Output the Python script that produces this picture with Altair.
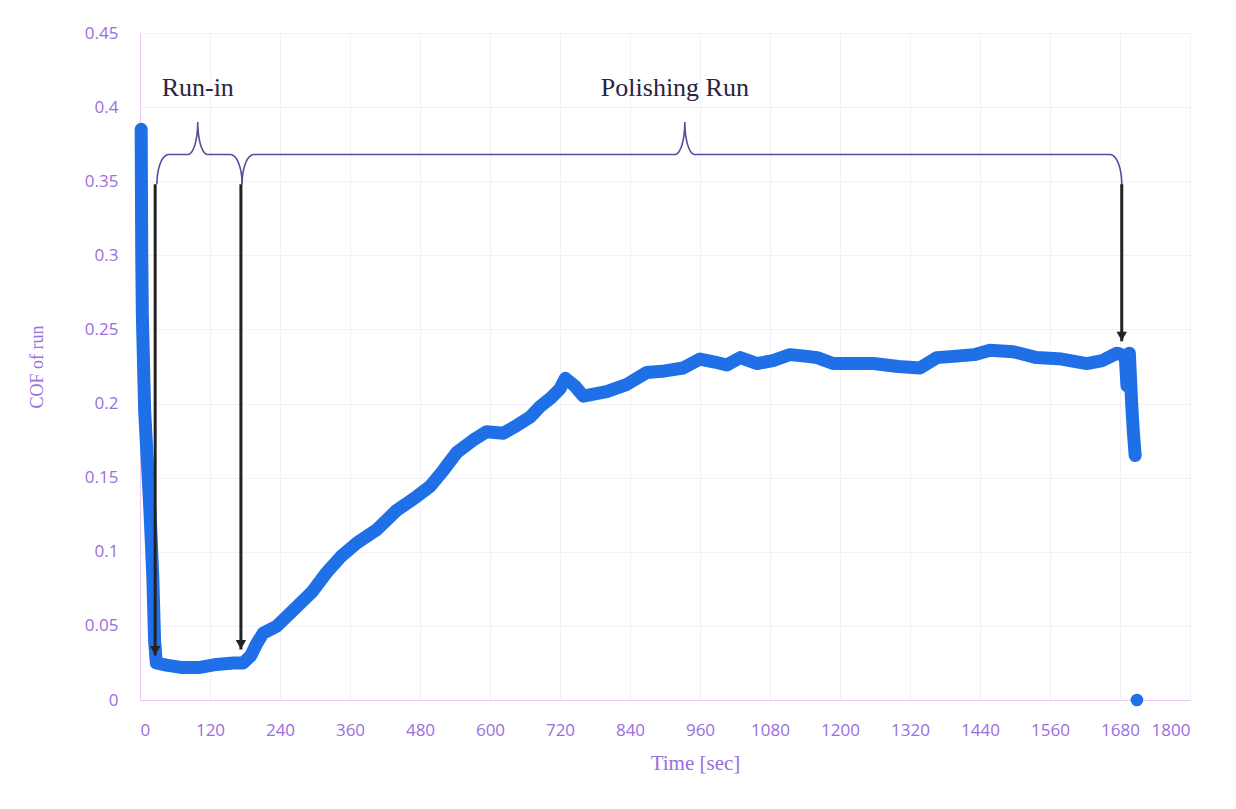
import math
import altair as alt
import pandas as pd

# ---- data ----
time_s = [2, 3, 4, 8, 17, 22, 25, 28, 45, 70, 103, 131, 160, 177, 190, 200, 211, 235, 269,
          295, 320, 345, 372, 406, 440, 470, 497, 520, 543, 570, 594, 623, 645, 669, 686,
          705, 720, 729, 745, 760, 800, 835, 869, 900, 931, 960, 985, 1006, 1029, 1058,
          1085, 1114, 1140, 1161, 1188, 1220, 1257, 1300, 1337, 1366, 1400, 1430, 1457,
          1497, 1537, 1580, 1623, 1650, 1675, 1689, 1692, 1696, 1700, 1703, 1706]
cof = [0.385, 0.3, 0.26, 0.195, 0.128, 0.083, 0.04, 0.025, 0.0235, 0.022, 0.022, 0.024, 0.025,
       0.025, 0.03, 0.038, 0.045, 0.05, 0.063, 0.073, 0.086, 0.097, 0.106, 0.115, 0.128,
       0.136, 0.144, 0.155, 0.167, 0.175, 0.181, 0.18, 0.185, 0.191, 0.198, 0.204, 0.21,
       0.217, 0.212, 0.205, 0.208, 0.213, 0.221, 0.222, 0.224, 0.23, 0.228, 0.226, 0.231,
       0.227, 0.229, 0.233, 0.232, 0.231, 0.227, 0.227, 0.227, 0.225, 0.224, 0.231, 0.232,
       0.233, 0.236, 0.235, 0.231, 0.23, 0.227, 0.229, 0.234, 0.232, 0.212, 0.234, 0.2,
       0.18, 0.165]
outlier_time = [1709]
outlier_cof = [0.0]

x_ticks = [0, 120, 240, 360, 480, 600, 720, 840, 960, 1080, 1200, 1320, 1440, 1560, 1680, 1800]
y_ticks = [0, 0.05, 0.1, 0.15, 0.2, 0.25, 0.3, 0.35, 0.4, 0.45]

# annotations
label_text = ["Run-in", "Polishing Run"]
label_time = [99, 917]
label_cof = [0.413, 0.413]

brace_name = ["run-in", "polishing"]
brace_start = [29, 175]
brace_end = [175, 1683]
brace_mid = [99, 934]
brace_line = 0.368
brace_peak = 0.390
brace_foot = 0.348
brace_end_w = 20
brace_mid_w = 17

arrow_time = [26, 173, 1683]
arrow_top = [0.348, 0.348, 0.348]
arrow_tip = [0.030, 0.034, 0.242]

BLUE = "#1f6fe6"
PURPLE = "#9a6ee0"
SERIF = "Liberation Serif"
SANS = "Open Sans"

main = pd.DataFrame({"t": time_s, "c": cof})
outl = pd.DataFrame({"t": outlier_time, "c": outlier_cof})
labels = pd.DataFrame({"t": label_time, "c": label_cof, "txt": label_text})


def brace_rows(name, x0, x1, xm):
    pts = []
    n = 12
    for i in range(n + 1):
        th = math.pi / 2 * i / n
        pts.append((x0 + brace_end_w - brace_end_w * math.cos(th),
                    brace_foot + (brace_line - brace_foot) * math.sin(th)))
    for i in range(n + 1):
        th = math.pi / 2 * i / n
        pts.append((xm - brace_mid_w + brace_mid_w * math.sin(th),
                    brace_peak - (brace_peak - brace_line) * math.cos(th)))
    for i in range(n, -1, -1):
        th = math.pi / 2 * i / n
        pts.append((xm + brace_mid_w - brace_mid_w * math.sin(th),
                    brace_peak - (brace_peak - brace_line) * math.cos(th)))
    for i in range(n, -1, -1):
        th = math.pi / 2 * i / n
        pts.append((x1 - brace_end_w + brace_end_w * math.cos(th),
                    brace_foot + (brace_line - brace_foot) * math.sin(th)))
    return [{"name": name, "k": k, "t": p[0], "c": p[1]} for k, p in enumerate(pts)]


rows = []
for nm, a, b, m in zip(brace_name, brace_start, brace_end, brace_mid):
    rows += brace_rows(nm, a, b, m)
braces = pd.DataFrame(rows)

arrows = pd.DataFrame({"t": arrow_time, "c": arrow_top, "c2": arrow_tip})

xs = alt.Scale(domain=[0, 1800], nice=False)
ys = alt.Scale(domain=[0, 0.45], nice=False)

x_axis = alt.Axis(values=x_ticks, format="d", title="Time [sec]", grid=True, ticks=False,
                  labelFont=SANS, labelFontSize=17, labelColor=PURPLE, labelPadding=22,
                  titleFont=SERIF, titleFontSize=21, titleColor=PURPLE, titleFontWeight="normal",
                  titlePadding=14, titleX=555,
                  domainColor="#ecc8f2", gridColor="#f4f0f8")
y_axis = alt.Axis(values=y_ticks, title="COF of run", grid=True, ticks=False, format=".2~f",
                  labelFont=SANS, labelFontSize=17, labelColor=PURPLE, labelPadding=22,
                  titleFont=SERIF, titleFontSize=18, titleColor=PURPLE, titleFontWeight="normal",
                  titlePadding=38,
                  domainColor="#ecc8f2", gridColor="#f4f0f8")

line = alt.Chart(main).mark_line(color=BLUE, strokeWidth=13, strokeCap="round",
                                 strokeJoin="round").encode(
    x=alt.X("t:Q", scale=xs, axis=x_axis),
    y=alt.Y("c:Q", scale=ys, axis=y_axis),
)

dot = alt.Chart(outl).mark_point(filled=True, color=BLUE, size=160, opacity=1).encode(
    x=alt.X("t:Q", scale=xs), y=alt.Y("c:Q", scale=ys))

brace_layer = alt.Chart(braces).mark_line(color="#5b4a9a", strokeWidth=1.6).encode(
    x=alt.X("t:Q", scale=xs), y=alt.Y("c:Q", scale=ys),
    detail="name:N", order="k:Q")

shafts = alt.Chart(arrows).mark_rule(color="#222222", strokeWidth=3).encode(
    x=alt.X("t:Q", scale=xs), y=alt.Y("c:Q", scale=ys), y2=alt.Y2("c2:Q"))

heads = alt.Chart(arrows).mark_point(shape="triangle-down", filled=True, color="#222222",
                                     size=110, opacity=1, yOffset=-5).encode(
    x=alt.X("t:Q", scale=xs), y=alt.Y("c2:Q", scale=ys))

texts = alt.Chart(labels).mark_text(font=SERIF, fontSize=26, color="#2a2540").encode(
    x=alt.X("t:Q", scale=xs), y=alt.Y("c:Q", scale=ys), text="txt:N")

chart = alt.layer(line, dot, brace_layer, shafts, heads, texts).properties(
    width=1050, height=667,
    autosize=alt.AutoSizeParams(type="none"),
    padding={"left": 132, "top": 25, "right": 30, "bottom": 90},
).configure_view(stroke=None).configure(background="white")

chart.save("out.html", embed_options={"renderer": "svg", "actions": False})
